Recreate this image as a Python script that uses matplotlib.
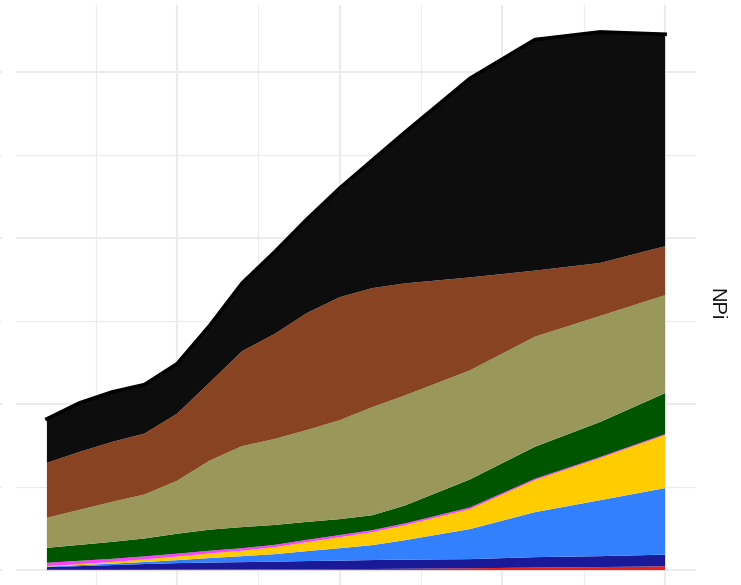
import matplotlib
matplotlib.use("Agg")
import matplotlib.pyplot as plt
import numpy as np

years = [2005, 2010, 2015, 2020, 2025, 2030, 2035, 2040, 2045, 2050, 2055, 2060, 2070, 2080, 2090, 2100]

red     = [0.2, 0.2, 0.2, 0.25, 0.3, 0.35, 0.4, 0.5, 0.55, 0.6, 0.65, 0.8, 1.1, 1.5, 1.8, 2.3]
navy    = [1.6, 2.2, 2.8, 3.4, 3.9, 4.2, 4.4, 4.6, 4.9, 5.1, 5.4, 5.5, 5.5, 6.3, 6.6, 7.0]
ltblue  = [0.3, 0.6, 0.9, 1.2, 1.8, 2.7, 3.6, 4.5, 6.0, 7.5, 9.0, 11.7, 18.1, 27.1, 33.7, 40.1]
yellow  = [0.3, 0.6, 1.0, 1.6, 2.2, 2.8, 3.3, 4.2, 5.4, 6.6, 7.8, 9.0, 12.0, 19.3, 25.3, 31.9]
magenta = [2.0, 2.0, 1.9, 1.8, 1.7, 1.6, 1.5, 1.4, 1.4, 1.3, 1.2, 1.1, 1.0, 0.8, 0.7, 0.6]
green   = [9.0, 9.6, 10.2, 10.8, 12.0, 12.7, 12.7, 12.0, 10.8, 9.6, 9.0, 10.8, 16.9, 19.3, 21.1, 24.7]
olive   = [18.1, 21.1, 24.1, 26.5, 31.9, 41.6, 48.8, 51.8, 55.4, 59.6, 65.1, 66.3, 65.7, 66.3, 63.9, 59.0]
brown   = [33.1, 34.9, 36.1, 36.7, 40.4, 47.0, 57.2, 63.3, 70.5, 74.1, 71.7, 67.5, 56.0, 39.8, 31.9, 29.5]
black   = [26.5, 29.5, 30.1, 29.5, 30.1, 34.3, 41.0, 49.4, 56.6, 65.7, 77.1, 91.0, 119.9, 139.2, 139.2, 127.7]

layers = [red, navy, ltblue, yellow, magenta, green, olive, brown, black]
colors = ["#e8221a", "#1a1a99", "#3380ff", "#ffcc00", "#ff40ff", "#005500", "#9a975a", "#884422", "#0d0d0d"]

panel_label = "NPi"

total = np.sum(np.array(layers), axis=0)
M = total.max()
x0, x1 = min(years), max(years)
xr = x1 - x0
xlim = (x0 - 0.05 * xr, x1 + 0.05 * xr)
ylim = (-0.05 * M, 1.05 * M)

W, H = 741, 585
fig = plt.figure(figsize=(W / 100, H / 100), dpi=100)

pl, pr, pt, pb = 16, 696, 5, 597
ax = fig.add_axes([pl / W, (H - pb) / H, (pr - pl) / W, (pb - pt) / H])
ax.set_xlim(*xlim)
ax.set_ylim(*ylim)

ax.stackplot(years, *layers, colors=colors, linewidth=0, zorder=2)
ax.plot(years, total, color="black", lw=2.6, solid_joinstyle="round", zorder=3)

ax.set_xticks([2025, 2050, 2075, 2100])
ax.set_xticks([2012.5, 2037.5, 2062.5, 2087.5], minor=True)
ax.set_yticks([0, 100, 200, 300])
ax.set_yticks([50, 150, 250], minor=True)
ax.grid(which="major", color="#ebebeb", lw=1.5, zorder=0)
ax.grid(which="minor", color="#ebebeb", lw=0.8, zorder=0)
ax.set_axisbelow(True)
ax.tick_params(which="both", length=0, labelbottom=False, labelleft=False)
for s in ax.spines.values():
    s.set_visible(False)

# stub of the neighbouring panel's gridlines at the very left
ax2 = fig.add_axes([0, (H - pb) / H, 2 / W, (pb - pt) / H])
ax2.set_ylim(*ylim)
ax2.set_yticks([0, 100, 200, 300])
ax2.set_yticks([50, 150, 250], minor=True)
ax2.set_xticks([])
ax2.grid(axis="y", which="major", color="#ebebeb", lw=1.5)
ax2.grid(axis="y", which="minor", color="#ebebeb", lw=0.8)
ax2.tick_params(which="both", length=0, labelleft=False)
for s in ax2.spines.values():
    s.set_visible(False)

fig.text(716 / W, 1 - 304 / H, panel_label, rotation=-90, ha="center", va="center",
         fontsize=14.5, family=["Liberation Sans", "DejaVu Sans"], color="#111111")

fig.savefig("out.png", dpi=100)
